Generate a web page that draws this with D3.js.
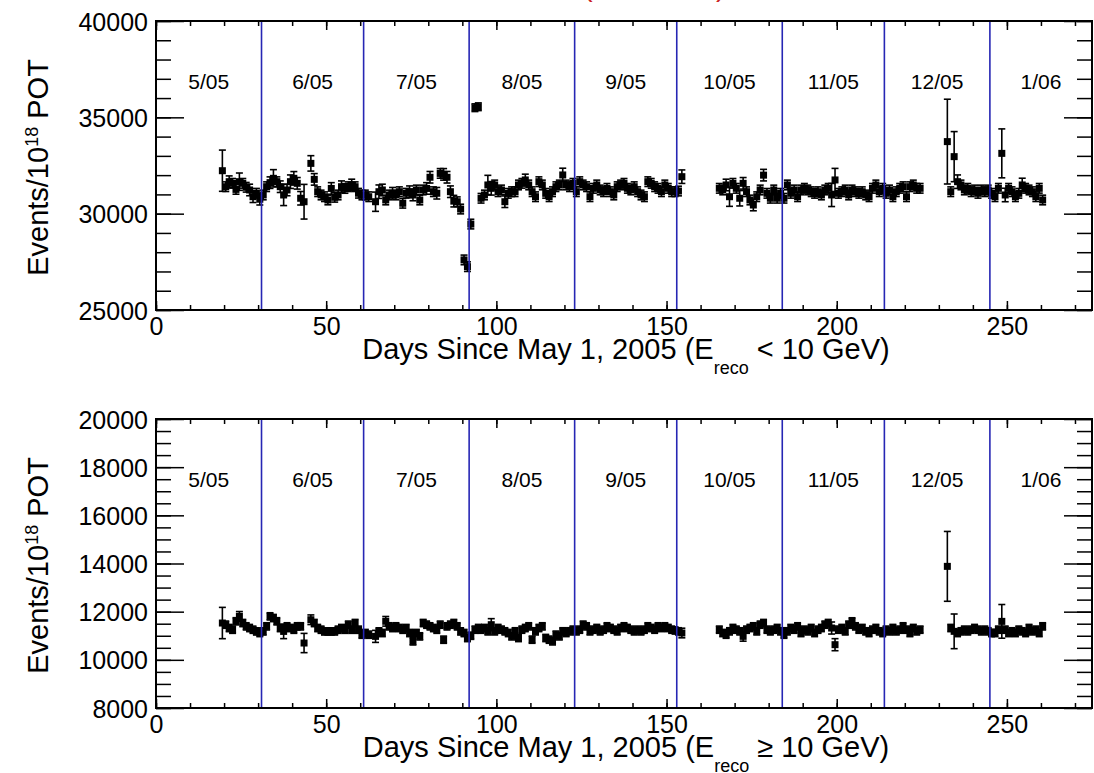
<!DOCTYPE html>
<html><head><meta charset="utf-8">
<script src="https://cdn.jsdelivr.net/npm/d3@7"></script>
<style>
body{margin:0;background:#fff}
svg{display:block}
text{font-family:"Liberation Sans",Arial,Helvetica,sans-serif;fill:#000}
</style>
</head><body>
<svg id="chart" width="1094" height="773"></svg>
<script>
// ---- data (day index) ----
const days = [
 19,20,21,22,23,24,25,26,27,28,29,30,31,32,33,34,35,36,37,38,39,40,41,42,43,
 45,46,47,48,49,50,51,52,53,54,55,56,57,58,59,60,61,62,
 64,65,66,67,68,69,70,71,72,73,74,75,76,77,78,79,80,81,82,83,84,85,86,87,88,89,90,91,92,
 93.2,94.2,
 95,96,97,98,99,100,101,102,103,104,105,106,107,108,109,110,111,112,113,114,
 115,116,117,118,119,120,121,122,123,124,125,126,127,128,129,130,131,132,133,134,
 135,136,137,138,139,140,141,142,143,144,145,146,147,148,149,150,151,152,153,154,
 165,166,167,168,169,170,171,172,173,174,175,176,177,178,179,180,181,182,183,184,
 185,186,187,188,189,190,191,192,193,194,195,196,197,198,199,200,201,202,203,204,
 205,206,207,208,209,210,211,212,213,214,215,216,217,218,219,220,221,222,223,224,
 232,233,234,235,236,237,238,239,240,241,242,243,244,245,246,247,248,249,250,251,252,253,254,255,256,257,258,259,260
];

const lowEValues = [
 32230,31400,31660,31575,31260,31660,31575,31370,31230,30880,31060,30750,30970,31400,31610,31835,31660,31400,30970,31230,31660,31835,31575,30800,30620,
 32610,31780,31140,30970,30880,30710,31310,30850,30970,31400,31310,31400,31490,31400,31060,30970,30970,30880,
 30620,31140,31230,30710,30970,31060,30970,31140,30540,31060,31140,30970,31230,30710,31230,31310,31890,31140,31060,32090,32040,31890,31140,30650,30620,30240,27600,27250,29460,
 35500,35550,
 30800,30970,31490,31315,31490,31140,31230,30620,31055,31140,
 31140,31490,31575,31750,31490,31140,30880,31660,31490,31055,
 30880,31140,31400,31490,32010,31490,31400,31575,31140,31660,
 31490,31400,30880,31315,31490,31230,31140,31315,31140,30970,
 31400,31490,31575,31315,31230,31400,31140,30970,30880,31660,
 31575,31400,31315,31140,31490,31315,31140,31140,31175,31920,
 31316,31230,31490,30880,31575,31316,30800,31575,31140,30710,
 30450,30880,31230,32000,31056,30800,31230,30800,31056,30800,
 31490,31056,31230,30880,31230,31316,31230,31140,31056,31140,
 30970,31230,31316,30970,31750,31056,31140,31230,30970,31230,
 31140,31056,31140,30970,30880,31316,31490,31140,31316,31056,
 31230,30880,31140,31316,31400,30880,31400,31490,31316,31316,
 33740,31140,32960,31660,31490,31230,31316,31140,31230,31056,31230,31140,31230,31056,30880,31316,33130,30970,31316,31140,30880,31056,31490,31316,31230,31140,30880,31316,30710
];
const lowEErrors = [
 1070,250,300,250,250,450,250,250,300,300,250,300,250,250,300,450,250,300,550,300,350,350,300,350,900,
 400,300,250,250,250,250,300,250,250,300,250,250,300,250,250,250,250,250,
 500,350,300,250,250,300,250,250,250,250,300,300,250,250,250,300,300,250,300,250,300,300,300,300,250,250,250,250,250,
 200,200,
 250,250,500,350,250,250,250,300,250,250,
 250,250,250,300,250,250,250,250,250,250,
 250,250,250,250,350,250,250,250,250,250,
 250,250,250,250,250,250,250,250,250,250,
 250,250,250,250,250,250,250,250,250,250,
 250,250,250,250,250,250,250,250,250,350,
 250,250,300,500,250,250,400,300,250,250,
 300,250,250,300,250,250,250,250,250,250,
 250,250,250,250,250,250,250,250,250,250,
 250,250,250,600,600,250,250,250,250,250,
 250,250,250,250,250,250,250,250,250,250,
 250,250,250,250,250,250,250,250,250,250,
 2200,250,1300,350,250,250,250,250,250,250,250,250,250,250,250,250,1270,350,250,250,250,250,350,250,250,250,250,250,250
];

const highEValues = [
 11528,11460,11320,11250,11600,11805,11528,11390,11320,11250,11180,11113,11180,11390,11805,11735,11600,11320,11180,11390,11320,11250,11390,11390,10698,
 11665,11528,11320,11250,11180,11180,11180,11180,11250,11320,11250,11460,11250,11528,11250,11044,11113,11044,
 10974,11180,11113,11600,11390,11320,11390,11320,11250,11320,11113,10767,11113,10974,11528,11460,11390,11320,11250,11460,10836,11390,11460,11528,11390,11180,11113,10905,11000,
 11252,11321,
 11252,11321,11183,11460,11183,11321,11252,11183,11114,10975,
 11183,10906,11252,11321,11390,10837,11183,11321,11390,10906,
 10837,10768,11045,10975,11183,11114,11183,11252,11183,11252,
 11460,11390,11183,11252,11321,11183,11252,11390,11321,11252,
 11183,11321,11390,11321,11252,11183,11252,11183,11252,11390,
 11321,11252,11390,11321,11390,11321,11252,11220,11183,11114,
 11252,11113,11044,11183,11321,11252,11183,10975,11252,11321,
 11390,11183,11460,11528,11252,11183,11252,11321,11183,11044,
 11183,11321,11252,11390,11113,11252,11183,11321,11113,11252,
 11321,11460,11528,11321,10629,11252,11321,11183,11460,11597,
 11390,11252,11321,11183,11113,11252,11321,11183,11113,11252,
 11183,11321,11183,11252,11390,11252,11113,11321,11183,11252,
 13881,11321,11183,11113,11183,11252,11183,11252,11321,11252,11183,11252,11183,11113,11113,11252,11597,11252,11113,11183,11113,11252,11183,11113,11321,11183,11252,11113,11390
];
const highEErrors = [
 650,150,150,150,150,200,150,150,150,150,150,150,150,150,150,150,150,150,300,150,150,150,150,150,400,
 200,150,150,150,150,150,150,150,150,150,150,150,150,150,150,150,150,150,
 250,150,150,200,150,150,150,150,150,150,150,150,150,150,150,150,150,150,150,150,150,150,150,150,150,150,150,150,150,
 150,150,
 150,150,150,250,150,150,150,150,150,150,
 150,150,150,150,150,150,150,150,150,150,
 150,150,150,150,150,150,150,150,150,150,
 150,150,150,150,150,150,150,150,150,150,
 150,150,150,150,150,150,150,150,150,150,
 150,150,150,150,150,150,150,150,150,200,
 150,150,150,150,150,150,150,200,150,150,
 150,150,150,150,150,150,150,150,150,150,
 150,150,150,150,150,150,150,150,150,150,
 150,150,150,250,250,150,150,150,150,150,
 150,150,150,150,150,150,150,150,150,150,
 150,150,150,150,150,150,150,150,150,150,
 1450,150,720,150,150,150,150,150,150,150,150,150,150,150,150,150,700,150,150,150,150,150,150,150,150,150,150,150,150
];

const monthBoundaries = [31, 61, 92, 123, 153, 184, 214, 245];
const monthLabels = ["5/05","6/05","7/05","8/05","9/05","10/05","11/05","12/05","1/06"];
const monthLabelDays = [15.5, 46, 76.5, 107.5, 138, 168.5, 199, 229.5, 260];
const xTicksMajor = [0, 50, 100, 150, 200, 250];
const lowTicksMajor = [25000, 30000, 35000, 40000];
const highTicksMajor = [8000, 10000, 12000, 14000, 16000, 18000, 20000];

// ---- drawing ----
const svg = d3.select("#chart");
const left = 156, right = 1092;
const x = d3.scaleLinear().domain([0, 275]).range([left, right]);
const binOffset = 0.5;

const panels = [
  {values: lowEValues, errors: lowEErrors, domain: [25000, 40000], top: 21, bottom: 310,
   major: lowTicksMajor, minorStep: 1000, rel: "<"},
  {values: highEValues, errors: highEErrors, domain: [8000, 20000], top: 419, bottom: 708,
   major: highTicksMajor, minorStep: 500, rel: "\u2265"}
];

// clipped red header remnants
svg.append("text").attr("x", 583).attr("y", -4).attr("font-size", 29).style("fill", "#cc2222").text("(");
svg.append("text").attr("x", 716).attr("y", -4).attr("font-size", 29).style("fill", "#cc2222").text(")");

panels.forEach((p, pi) => {
  const y = d3.scaleLinear().domain(p.domain).range([p.bottom, p.top]);
  const g = svg.append("g");
  const minorY = d3.range(p.domain[0], p.domain[1] + 1, p.minorStep);
  const minorX = d3.range(0, 276, 10);

  // left axis (labels outside, ticks inside)
  const la = g.append("g").attr("transform", `translate(${left},0)`)
    .call(d3.axisLeft(y).tickValues(p.major).tickSizeInner(-28).tickSizeOuter(0).tickPadding(8).tickFormat(d3.format("d")));
  la.select(".domain").remove();
  la.selectAll("text").attr("font-size", 25).attr("dy", "0.36em").style("font-family", '"Liberation Sans",Arial,sans-serif');
  la.selectAll("line").attr("stroke", "#000").attr("stroke-width", 1.5);
  const lm = g.append("g").attr("transform", `translate(${left},0)`)
    .call(d3.axisLeft(y).tickValues(minorY).tickSizeInner(-15).tickSizeOuter(0).tickFormat(""));
  lm.select(".domain").remove();
  lm.selectAll("line").attr("stroke", "#000").attr("stroke-width", 1.5);
  // right axis
  const ra = g.append("g").attr("transform", `translate(${right},0)`)
    .call(d3.axisRight(y).tickValues(p.major).tickSizeInner(-28).tickSizeOuter(0).tickFormat(""));
  ra.select(".domain").remove();
  ra.selectAll("line").attr("stroke", "#000").attr("stroke-width", 1.5);
  const rm = g.append("g").attr("transform", `translate(${right},0)`)
    .call(d3.axisRight(y).tickValues(minorY).tickSizeInner(-15).tickSizeOuter(0).tickFormat(""));
  rm.select(".domain").remove();
  rm.selectAll("line").attr("stroke", "#000").attr("stroke-width", 1.5);

  // bottom axis
  const ba = g.append("g").attr("transform", `translate(0,${p.bottom})`)
    .call(d3.axisBottom(x).tickValues(xTicksMajor).tickSizeInner(-9).tickSizeOuter(0).tickPadding(7).tickFormat(d3.format("d")));
  ba.select(".domain").remove();
  ba.selectAll("text").attr("font-size", 25).style("font-family", '"Liberation Sans",Arial,sans-serif');
  ba.selectAll("line").attr("stroke", "#000").attr("stroke-width", 1.5);
  const bm = g.append("g").attr("transform", `translate(0,${p.bottom})`)
    .call(d3.axisBottom(x).tickValues(minorX).tickSizeInner(-5).tickSizeOuter(0).tickFormat(""));
  bm.select(".domain").remove();
  bm.selectAll("line").attr("stroke", "#000").attr("stroke-width", 1.5);
  // top axis
  const ta = g.append("g").attr("transform", `translate(0,${p.top})`)
    .call(d3.axisTop(x).tickValues(xTicksMajor).tickSizeInner(-9).tickSizeOuter(0).tickFormat(""));
  ta.select(".domain").remove();
  ta.selectAll("line").attr("stroke", "#000").attr("stroke-width", 1.5);
  const tm = g.append("g").attr("transform", `translate(0,${p.top})`)
    .call(d3.axisTop(x).tickValues(minorX).tickSizeInner(-5).tickSizeOuter(0).tickFormat(""));
  tm.select(".domain").remove();
  tm.selectAll("line").attr("stroke", "#000").attr("stroke-width", 1.5);

  // month labels
  g.selectAll("text.month").data(monthLabels).enter().append("text")
    .attr("class", "month")
    .attr("x", (d, i) => x(monthLabelDays[i]))
    .attr("y", p.top + 68)
    .attr("text-anchor", "middle")
    .attr("font-size", 21)
    .text(d => d);

  // data
  const pts = days.map((d, i) => ({d, v: p.values[i], e: p.errors[i]}));
  const clampY = v => Math.max(p.top, Math.min(p.bottom, y(v)));
  const eg = g.append("g").attr("stroke", "#000").attr("stroke-width", 1.6);
  eg.selectAll("line.eb").data(pts).enter().append("line")
    .attr("x1", q => x(q.d + binOffset)).attr("x2", q => x(q.d + binOffset))
    .attr("y1", q => clampY(q.v - q.e)).attr("y2", q => clampY(q.v + q.e));
  eg.selectAll("line.cu").data(pts).enter().append("line")
    .attr("x1", q => x(q.d + binOffset) - 3.5).attr("x2", q => x(q.d + binOffset) + 3.5)
    .attr("y1", q => y(q.v + q.e)).attr("y2", q => y(q.v + q.e));
  eg.selectAll("line.cl").data(pts).enter().append("line")
    .attr("x1", q => x(q.d + binOffset) - 3.5).attr("x2", q => x(q.d + binOffset) + 3.5)
    .attr("y1", q => y(q.v - q.e)).attr("y2", q => y(q.v - q.e));
  g.append("g").selectAll("rect").data(pts).enter().append("rect")
    .attr("x", q => x(q.d + binOffset) - 3.5).attr("y", q => y(q.v) - 3.5)
    .attr("width", 7).attr("height", 7).attr("fill", "#000");

  // month boundary lines
  g.append("g").selectAll("line").data(monthBoundaries).enter().append("line")
    .attr("x1", d => x(d)).attr("x2", d => x(d))
    .attr("y1", p.top).attr("y2", p.bottom)
    .attr("stroke", "#2626b4").attr("stroke-width", 1.6);

  // frame
  g.append("rect").attr("x", left).attr("y", p.top).attr("width", right - left).attr("height", p.bottom - p.top)
    .attr("fill", "none").attr("stroke", "#000").attr("stroke-width", 2);

  // x title
  const xt = g.append("text").attr("x", 626).attr("y", p.bottom + 49).attr("text-anchor", "middle").attr("font-size", 29);
  xt.append("tspan").text("Days Since May 1, 2005 (E");
  xt.append("tspan").attr("font-size", 18).attr("dy", 15).text("reco");
  xt.append("tspan").attr("dy", -15).text(" " + p.rel + " 10 GeV)");

  // y title
  const cy = (p.top + p.bottom) / 2 + 2;
  const yt = g.append("text").attr("transform", `translate(48,${cy}) rotate(-90)`).attr("text-anchor", "middle").attr("font-size", 29);
  yt.append("tspan").text("Events/10");
  yt.append("tspan").attr("font-size", 18).attr("dy", -10).text("18");
  yt.append("tspan").attr("dy", 10).text(" POT");
});
</script>
</body></html>
